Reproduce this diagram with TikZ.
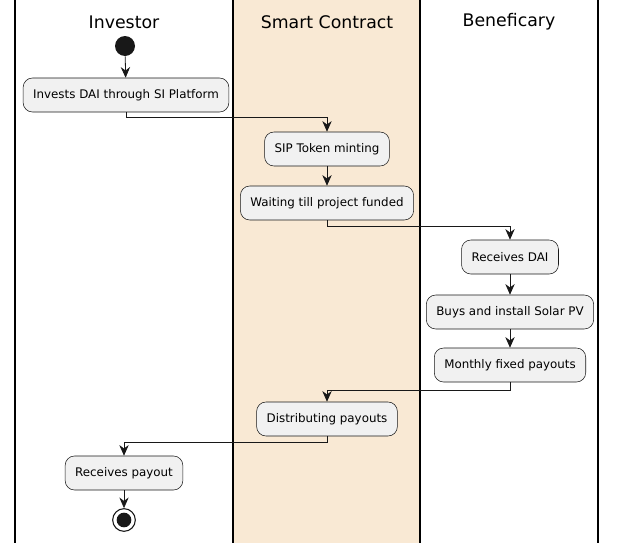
\documentclass[tikz,border=0pt]{standalone}
\usepackage{fontspec}
\setmainfont{DejaVu Sans}
\usetikzlibrary{arrows.meta}
\definecolor{lane}{HTML}{F9E9D4}
\definecolor{act}{HTML}{F1F1F1}
\definecolor{ln}{HTML}{181818}
\begin{document}
\begin{tikzpicture}[x=0.75pt,y=-0.75pt,
  act/.style={draw=ln,fill=act,rounded corners=7pt,minimum height=25.5pt,inner xsep=7.5pt,font=\fontsize{8.9}{10}\selectfont},
  title/.style={font=\fontsize{13}{15}\selectfont},
  flow/.style={draw=ln,line width=0.6pt,-{Stealth[length=8pt,width=7pt]}}]
\useasboundingbox (0,0) rectangle (617,543);
\fill[lane] (233,0) rectangle (420,543);
\foreach \x in {15,233,420,598} \draw[line width=1pt] (\x,0) -- (\x,543);
\node[title] (t1) at (124,22) {Investor};
\node[title] (t2) at (327,22) {Smart Contract};
\node[title] (t3) at (509,22) {Beneficary};
\node[circle,fill=ln,minimum size=15pt,inner sep=0] (s) at (125,46) {};
\node[act] (a1) at (126,95) {Invests DAI through SI Platform};
\node[act] (a2) at (327,149) {SIP Token minting};
\node[act] (a3) at (327,203) {Waiting till project funded};
\node[act] (a4) at (510,257) {Receives DAI};
\node[act] (a5) at (510,312) {Buys and install Solar PV};
\node[act] (a6) at (510,365) {Monthly fixed payouts};
\node[act] (a7) at (327,419) {Distributing payouts};
\node[act] (a8) at (124,473) {Receives payout};
\node[circle,draw=ln,line width=0.8pt,minimum size=17pt,inner sep=0] (e) at (124,520) {};
\node[circle,fill=ln,minimum size=11pt,inner sep=0] (e2) at (e) {};
\draw[flow] (s) -- (a1);
\draw[flow] (a1.south) -- ++(0,5) -| (a2.north);
\draw[flow] (a2) -- (a3);
\draw[flow] (a3.south) -- ++(0,6) -| (a4.north);
\draw[flow] (a4) -- (a5);
\draw[flow] (a5) -- (a6);
\draw[flow] (a6.south) -- ++(0,8) -| (a7.north);
\draw[flow] (a7.south) -- ++(0,6) -| (a8.north);
\draw[flow] (a8) -- (e);
\end{tikzpicture}
\end{document}
